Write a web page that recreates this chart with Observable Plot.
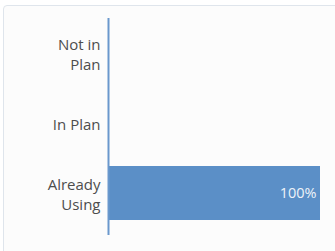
<!DOCTYPE html>
<html><head><meta charset="utf-8">
<script src="https://cdn.jsdelivr.net/npm/d3@7"></script>
<script src="https://cdn.jsdelivr.net/npm/@observablehq/plot@0.6"></script>
<style>
html,body{margin:0;padding:0;background:#fff;}
#card{position:absolute;left:3px;top:5px;width:340px;height:260px;border:1px solid #dfe5ec;border-radius:4px;background:#fcfcfc;}
#chart{position:absolute;left:0;top:0;}
</style></head>
<body><div id="card"></div><div id="chart"></div>
<script>
const categories = ["Not in Plan", "In Plan", "Already Using"];
const tickLabels = ["Not in\nPlan", "In Plan", "Already\nUsing"];
const values = [0, 0, 100];
const valueLabels = ["", "", "100%"];

const data = categories.map((c, i) => ({category: c, value: values[i], label: valueLabels[i]}));
const labelMap = new Map(categories.map((c, i) => [c, tickLabels[i]]));

const chart = Plot.plot({
  width: 335, height: 251,
  marginLeft: 108, marginRight: 15, marginTop: 18, marginBottom: 16,
  style: {background: "transparent", fontFamily: "'Open Sans', sans-serif", fontSize: "15px", color: "#4d4d4d"},
  x: {domain: [0, 100], axis: null},
  y: {domain: categories, paddingInner: 0.23, paddingOuter: 0.16, align: 0.35, axis: null},
  marks: [
    Plot.axisY({tickSize: 0, tickPadding: 8, label: null, lineHeight: 1.3, fill: "#4d4d4d", fontSize: 15,
      tickFormat: d => labelMap.get(d)}),
    Plot.barX(data, {x: "value", y: "category", fill: "#5b8fc7"}),
    Plot.text(data.filter(d => d.label), {x: "value", y: "category", text: "label", textAnchor: "end", dx: -4, fill: "#eef3f9", fontSize: 14.5}),
    Plot.ruleX([0], {stroke: "#6a98cd", strokeWidth: 2})
  ]
});
document.getElementById("chart").appendChild(chart);
</script>
</body></html>
